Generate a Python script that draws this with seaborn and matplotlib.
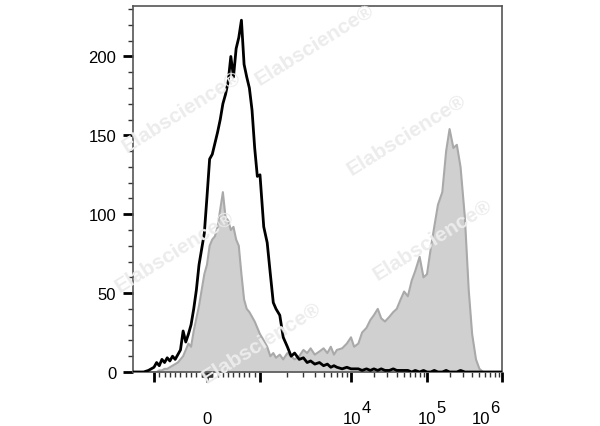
import numpy as np
import matplotlib
matplotlib.use("Agg")
import matplotlib.pyplot as plt
from matplotlib.ticker import FixedLocator
import seaborn as sns

# fluorescence intensity (bin centres) and event counts per bin
intensity = [
    -1700, -1500, -1300, -1150, -1000, -950, -900, -850, -800, -750,
    -700, -650, -600, -550, -500, -450, -400, -350, -300, -250,
    -200, -150, -100, -50, 0, 50, 100, 150, 200, 250,
    300, 350, 400, 450, 500, 550, 600, 650, 700, 750,
    800, 850, 900, 950, 1000,
    1100, 1200, 1300, 1400, 1500, 1650, 1800, 2000, 2200, 2400,
    2700, 3000, 3300, 3600, 4000, 4500, 5000, 5500, 6000, 6500,
    7000, 8000, 9000, 10000,
    11000, 12500, 14000, 16000, 18000, 20000, 22500, 25000, 28000, 32000,
    36000, 40000, 45000, 50000, 56000, 63000, 70000, 80000, 90000, 100000,
    112000, 125000, 140000, 160000, 180000, 200000, 225000, 250000, 280000, 320000,
    360000, 400000, 450000, 500000, 560000, 630000, 710000, 800000, 900000, 1000000,
]

control = [
    0, 0, 0, 1, 3, 6, 4, 8, 6, 9,
    7, 10, 8, 11, 14, 26, 19, 24, 30, 40,
    52, 68, 78, 88, 111, 135, 138, 145, 152, 160,
    170, 176, 184, 200, 187, 205, 212, 223, 195, 187,
    180, 166, 142, 124, 125,
    92, 82, 62, 44, 40, 36, 22, 16, 10, 12,
    8, 9, 6, 7, 5, 6, 4, 5, 3, 4,
    3, 2, 3, 2,
    2, 2, 1, 2, 1, 2, 1, 2, 1, 1,
    2, 1, 1, 1, 1, 0, 1, 0, 1, 0,
    0, 1, 0, 0, 1, 0, 0, 0, 1, 0,
    0, 0, 0, 0, 0, 0, 0, 0, 0, 0,
]

stained = [
    0, 0, 0, 0, 0, 0, 1, 1, 2, 2,
    3, 4, 5, 6, 8, 10, 14, 18, 16, 26,
    34, 42, 52, 62, 68, 80, 84, 86, 92, 103,
    114, 98, 96, 90, 92, 84, 80, 62, 46, 40,
    38, 35, 32, 28, 24,
    20, 16, 10, 12, 9, 11, 8, 12, 10, 8,
    10, 14, 12, 15, 11, 13, 15, 12, 16, 11,
    14, 15, 18, 22,
    16, 18, 25, 28, 33, 36, 40, 34, 32, 35,
    38, 40, 46, 51, 48, 58, 64, 73, 60, 62,
    78, 92, 106, 114, 140, 154, 142, 144, 130, 98,
    52, 24, 8, 2, 0, 0, 0, 0, 0, 0,
]

major_ticks = [-1000, 0, 1000, 1e4, 1e5, 1e6]
major_labels = ["", "0", "", "", "", ""]
# powers of ten written as "10" + large exponent, like the cytometer export
decade_ticks = [1e4, 1e5, 1e6]
decade_exps = ["4", "5", "6"]
decade_shift = [1.5, 0, -21]   # px, label centre relative to tick

# biexponential-like display: linear around zero, log outside
DEC_LOG = [3, 4, 5, 6, 9]
DEC_POS = [0, 91, 167, 242, 467]
LIN = 53.0


def fwd(x):
    x = np.asarray(x, dtype=float)
    a = np.abs(x)
    lg = LIN + np.interp(np.log10(np.maximum(a, 1000.0)), DEC_LOG, DEC_POS)
    return np.sign(x) * np.where(a <= 1000, a / 1000.0 * LIN, lg)


def inv(p):
    p = np.asarray(p, dtype=float)
    a = np.abs(p)
    lg = 10 ** np.interp(np.maximum(a - LIN, 0), DEC_POS, DEC_LOG)
    return np.sign(p) * np.where(a <= LIN, a / LIN * 1000.0, lg)


sns.set_style("ticks")
plt.rcParams["font.family"] = ["Liberation Sans", "DejaVu Sans"]
plt.rcParams["text.color"] = "black"

fig = plt.figure(figsize=(6, 4.27), dpi=100)
ax = fig.add_axes([133 / 600, 1 - 373 / 427, 369 / 600, 366 / 427])

ax.fill_between(intensity, stained, color="#d0d0d0", lw=0, zorder=1)
sns.lineplot(x=intensity, y=stained, ax=ax, color="#a9a9a9", lw=1.5, zorder=2)

# watermarks
marks = [(182, 112), (315, 45), (407, 135), (175, 252), (433, 240), (262, 343)]
for mx, my in marks:
    fig.text(mx / 600, 1 - my / 427, "Elabscience\u00ae", rotation=32, fontsize=15,
             fontweight="bold", color="#ececec", ha="center", va="center", zorder=3)

sns.lineplot(x=intensity, y=control, ax=ax, color="black", lw=2, zorder=4)

ax.set_xscale("function", functions=(fwd, inv))
ax.set_xlim(-1700, 1e6)
ax.set_ylim(0, 232)

minor_x = [s * v for s in (-1, 1) for v in list(range(10, 100, 10)) + list(range(100, 1000, 100))]
minor_x += [m * 10 ** d for d in (3, 4, 5) for m in range(2, 10)]
ax.xaxis.set_major_locator(FixedLocator(major_ticks))
ax.xaxis.set_minor_locator(FixedLocator(minor_x))
ax.set_xticklabels(major_labels)

ax.set_yticks([0, 50, 100, 150, 200])
ax.yaxis.set_minor_locator(FixedLocator([v for v in range(10, 231, 10) if v % 50]))

ax.tick_params(which="major", length=7, width=2, color="black", labelsize=12,
               labelcolor="black")
ax.tick_params(which="minor", length=3.5, width=1, color="#333333")
ax.tick_params(axis="x", which="major", pad=30)
ax.tick_params(axis="y", which="major", pad=5)
for lab in ax.get_xticklabels():
    lab.set_va("baseline")

for t, e, s in zip(decade_ticks, decade_exps, decade_shift):
    ax.annotate("10", xy=(t, 0), xycoords=("data", "axes fraction"),
                xytext=(s * 0.72, -36.5), textcoords="offset points",
                ha="center", va="baseline", fontsize=12, annotation_clip=False)
    ax.annotate(e, xy=(t, 0), xycoords=("data", "axes fraction"),
                xytext=((s + 9.5) * 0.72, -29), textcoords="offset points",
                ha="left", va="baseline", fontsize=12, annotation_clip=False)

for side in ["top", "right", "left", "bottom"]:
    ax.spines[side].set_visible(True)
    ax.spines[side].set_color("#555555")
    ax.spines[side].set_linewidth(1.2)

ax.set_xlabel("")
ax.set_ylabel("")

fig.savefig("out.png", dpi=100)
